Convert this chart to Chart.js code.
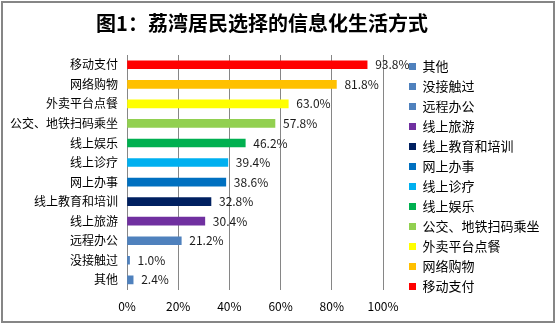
<!DOCTYPE html>
<html>
<head>
<meta charset="utf-8">
<script src="https://cdn.jsdelivr.net/npm/chart.js@4.4.0/dist/chart.umd.min.js"></script>
<style>
  html, body { margin: 0; padding: 0; background: #fff; }
  #wrap { width: 556px; height: 324px; position: relative; }
</style>
</head>
<body>
<div id="wrap"><canvas id="myChart" width="556" height="324"></canvas></div>
<script>
var chartTitle = "图1：荔湾居民选择的信息化生活方式";
var categories = ["移动支付", "网络购物", "外卖平台点餐", "公交、地铁扫码乘坐", "线上娱乐", "线上诊疗",
                  "网上办事", "线上教育和培训", "线上旅游", "远程办公", "没接触过", "其他"];
var values = [93.8, 81.8, 63.0, 57.8, 46.2, 39.4, 38.6, 32.8, 30.4, 21.2, 1.0, 2.4];
var barColors = ['#FF0000', '#FFC000', '#FFFF00', '#92D050', '#00B050', '#00B0F0',
                 '#0070C0', '#002060', '#7030A0', '#4F81BD', '#4F81BD', '#4F81BD'];
var tickValues = [0, 20, 40, 60, 80, 100];

var font = "'Noto Sans CJK SC', 'Noto Sans', sans-serif";

// title, value labels, frame; legend gets a fixed width and sits a bit off the plot
var extras = {
    id: 'extras',
    beforeLayout: function(chart) {
        var lg = chart.legend;
        if (lg && !lg._fixed) {
            var fit = lg.fit;
            lg.fit = function() {
                fit.call(this);
                this.width = 173;
            };
            lg._fixed = true;
        }
    },
    afterLayout: function(chart) {
        var lg = chart.legend;
        if (lg) {
            lg.left += 19;
            lg.right += 19;
            lg.top -= 13;
            lg.bottom -= 13;
        }
    },
    afterDraw: function(chart) {
        var c = chart.ctx;
        c.save();
        c.font = "bold 20px " + font;
        c.fillStyle = '#000';
        c.textAlign = 'center';
        c.textBaseline = 'middle';
        c.fillText(chartTitle, 262, 23);

        c.font = "12px " + font;
        c.textAlign = 'left';
        c.fillStyle = '#1a1a1a';
        var meta = chart.getDatasetMeta(0);
        meta.data.forEach(function(bar, i) {
            c.fillText(values[i].toFixed(1) + '%', bar.x + 8, bar.y);
        });

        c.strokeStyle = '#868686';
        c.lineWidth = 2;
        c.strokeRect(2, 2, 552, 320);
        c.restore();
    }
};

var ctx = document.getElementById("myChart").getContext('2d');
var myChart = new Chart(ctx, {
    type: 'bar',
    data: {
        labels: categories,
        datasets: [{
            data: values,
            backgroundColor: barColors,
            borderWidth: 0,
            barThickness: 8
        }]
    },
    options: {
        responsive: false,
        animation: false,
        indexAxis: 'y',
        layout: { padding: { top: 55, left: 0, right: 0, bottom: 0 } },
        scales: {
            x: {
                min: 0,
                max: 100,
                afterBuildTicks: function(axis) {
                    axis.ticks = tickValues.map(function(v) { return { value: v }; });
                },
                ticks: {
                    callback: function(v) { return v + '%'; },
                    font: { family: font, size: 12 },
                    color: '#000',
                    padding: 10
                },
                grid: { color: '#868686', drawTicks: false },
                border: { display: false }
            },
            y: {
                afterFit: function(axis) { axis.width = 127; },
                ticks: {
                    font: { family: font, size: 12 },
                    color: '#000',
                    padding: 9
                },
                grid: { display: false, drawTicks: false, tickLength: 0 },
                border: { color: '#868686' }
            }
        },
        plugins: {
            title: { display: false },
            tooltip: { enabled: false },
            legend: {
                position: 'right',
                labels: {
                    boxWidth: 7,
                    boxHeight: 7,
                    padding: 7,
                    color: '#000',
                    font: { family: font, size: 13 },
                    generateLabels: function(chart) {
                        var items = categories.map(function(cat, i) {
                            return {
                                text: cat,
                                fillStyle: barColors[i],
                                strokeStyle: barColors[i],
                                lineWidth: 0,
                                hidden: false,
                                index: i
                            };
                        });
                        return items.reverse();
                    }
                },
                onClick: function() {}
            }
        }
    },
    plugins: [extras]
});
</script>
</body>
</html>
